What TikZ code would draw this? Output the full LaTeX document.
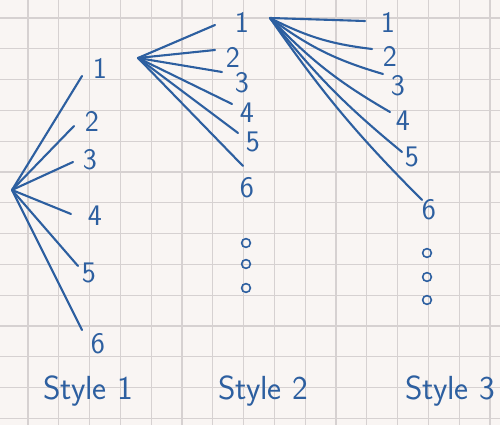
\documentclass[tikz,border=0pt]{standalone}
\usetikzlibrary{positioning}
\definecolor{ink}{RGB}{45,95,160}
\definecolor{paper}{RGB}{249,245,243}
\definecolor{gridline}{RGB}{214,209,209}
\begin{document}
\begin{tikzpicture}[x=0.02cm,y=-0.02cm,font=\sffamily\fontsize{17}{20}\selectfont,
  branch/.style={draw=ink,line width=1.2pt,line cap=round},
  leaf/.style={text=ink,inner sep=1pt},
  more/.style={draw=ink,line width=0.9pt,circle,inner sep=0pt,minimum size=5pt},
  caption/.style={text=ink,font=\sffamily\fontsize{19}{22}\selectfont}]
\fill[paper] (0,0) rectangle (500,425);
\useasboundingbox (0,0) rectangle (500,425);
\foreach \k in {0,...,16}{\draw[gridline,line width=0.6pt] (-2.8+30.8*\k,0) -- (-2.8+30.8*\k,425);}
\foreach \k in {0,...,14}{\draw[gridline,line width=0.6pt] (0,-12.8+30.8*\k) -- (500,-12.8+30.8*\k);}
\coordinate (r1) at (12,190);
\foreach \n/\x/\y/\ex/\ey in {1/100/68/82/76,2/92/121/74/126,3/90/160/73/162,4/95/216/71/214,5/89/273/78/266,6/98/344/82/330}{
\node[leaf] (a\n) at (\x,\y) {\n};
\coordinate (ae\n) at (\ex,\ey);
\draw[branch] (r1) -- (ae\n);}
\coordinate (r2) at (138,58);
\foreach \n/\x/\y/\ex/\ey in {1/242/22/215/25,2/233/57/215/50,3/242/83/222/72,4/247/113/232/104,5/253/142/238/133,6/247/188/243/166}{
\node[leaf] (b\n) at (\x,\y) {\n};
\coordinate (be\n) at (\ex,\ey);
\draw[branch] (r2) -- (be\n);}
\foreach \n/\y in {1/243,2/264,3/288}{\node[more] (bd\n) at (246,\y) {};}
\coordinate (r3) at (270,18);
\foreach \n/\x/\y/\ex/\ey/\b in {1/388/22/365/21/0,2/390/56/372/49/10,3/398/86/383/74/10,4/403/121/390/112/8,5/412/157/402/152/6,6/429/210/422/200/5}{
\node[leaf] (c\n) at (\x,\y) {\n};
\coordinate (ce\n) at (\ex,\ey);
\draw[branch] (r3) to[bend right=\b] (ce\n);}
\foreach \n/\y in {1/253,2/277,3/300}{\node[more] (cd\n) at (427,\y) {};}
\node[caption] (s1) at (88,391) {Style 1};
\node[caption] (s2) at (263,391) {Style 2};
\node[caption] (s3) at (450,391) {Style 3};
\end{tikzpicture}
\end{document}
